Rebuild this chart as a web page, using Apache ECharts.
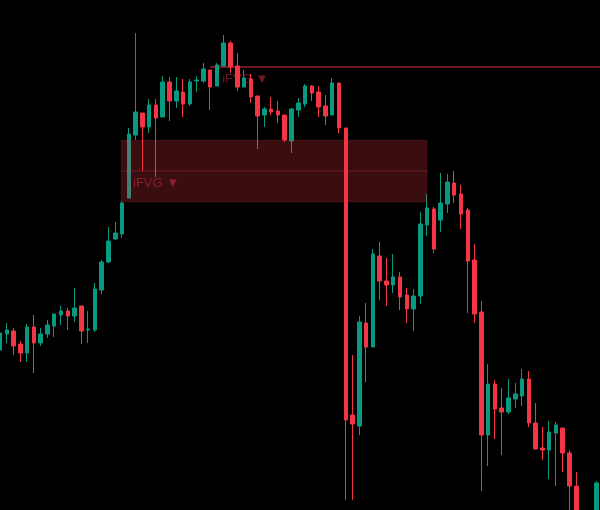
<!DOCTYPE html>
<html>
<head>
<meta charset="utf-8">
<script src="https://cdn.jsdelivr.net/npm/echarts@6/dist/echarts.min.js"></script>
<style>
html,body{margin:0;padding:0;background:#000;}
#chart{width:600px;height:510px;}
</style>
</head>
<body>
<div id="chart"></div>
<script>
// Bar index (time) positions
var barIndex = [];
for (var k = 0; k < 89; k++) barIndex.push(k);

// OHLC values (arbitrary price units)
var opens  = [160,176,179,166,157,183,167,176,184,195,199,194,204,180,180,220,248,271,276,312,
              375,397,383,405,393,428,409,418,406,429,429,440,424,444,467,444,423,431,414,395,
              401,399,395,369,400,406,424,418,404,395,427,382,95,84,187,163,254,229,225,233,
              215,201,214,285,301,290,306,327,316,300,250,198,75,126,102,98,111,114,131,87,
              62,60,77,82,57,24,-20,-38,-30];
var closes = [177,180,164,157,183,167,176,185,196,199,194,202,179,181,221,248,269,277,307,376,
              398,383,405,392,428,409,419,406,428,430,441,423,445,467,443,423,432,413,394,401,
              398,395,370,401,407,424,417,403,394,427,382,90,86,188,163,256,229,225,233,213,
              201,214,286,302,261,307,328,315,296,249,196,75,126,101,98,112,116,131,87,61,
              60,78,85,57,24,-20,-35,-30,27];
var lows   = [158,167,155,148,148,137,164,172,173,185,180,188,166,167,178,216,247,270,272,312,
              370,339,377,333,393,389,402,393,404,418,427,400,424,444,437,419,423,407,361,383,
              395,387,368,357,393,403,409,393,385,395,377,10,10,75,128,163,210,204,217,200,
              187,179,206,274,257,278,297,307,281,197,187,19,44,71,55,96,102,104,83,61,
              50,31,24,38,-5,-30,-45,-42,-35];
var highs  = [182,187,182,169,186,195,182,190,196,204,202,222,204,199,227,250,283,288,309,382,
              477,397,411,411,434,433,433,431,431,434,447,440,447,475,469,457,440,436,414,403,
              413,409,395,402,412,426,425,424,415,432,427,382,155,194,207,261,268,252,256,238,
              222,221,298,316,303,337,336,339,325,302,266,209,146,130,122,131,127,141,139,107,
              83,89,88,82,60,38,-12,-25,29];

// Zones (price levels)
var zoneStartIdx = 18, zoneEndIdx = 63;
var zoneTop = 370, zoneBottom = 308, zoneMid = 339;
var levelStartIdx = 31, levelPrice = 443;
var labelText = 'iFVG \u25BC';

var candleData = barIndex.map(function (x, i) {
  return [x, opens[i], closes[i], lows[i], highs[i]];
});

var chart = echarts.init(document.getElementById('chart'), null, {renderer: 'canvas'});

var labelColor = 'rgba(242,54,69,0.45)';
var fontFamily = 'Liberation Sans, Arial, sans-serif';

chart.setOption({
  backgroundColor: '#000000',
  animation: false,
  grid: {left: 0, right: 0, top: 0, bottom: 0},
  xAxis: {type: 'value', min: 0, max: 88.5, show: false, splitLine: {show: false}},
  yAxis: {type: 'value', min: 0, max: 510, show: false, splitLine: {show: false}},
  series: [
    {
      // upper level line + its label, behind the candles
      type: 'custom',
      z: 1,
      silent: true,
      clip: false,
      data: [[levelStartIdx, levelPrice]],
      encode: {x: 0, y: 1},
      renderItem: function (params, api) {
        var p = api.coord([api.value(0), api.value(1)]);
        var right = params.coordSys.x + params.coordSys.width;
        return {
          type: 'group',
          children: [
            {type: 'line', shape: {x1: p[0], y1: p[1], x2: right, y2: p[1]},
             style: {stroke: 'rgba(242,54,69,0.45)', lineWidth: 2}},
            {type: 'text', x: p[0] + 12, y: p[1] + 12,
             style: {text: labelText, fill: labelColor, fontSize: 13, fontFamily: fontFamily,
                     verticalAlign: 'middle', align: 'left'}}
          ]
        };
      }
    },
    {
      type: 'candlestick',
      z: 2,
      data: candleData,
      encode: {x: 0, y: [1, 2, 3, 4]},
      barWidth: 4,
      clip: true,
      itemStyle: {
        color: '#089981', color0: '#F23645',
        borderColor: '#089981', borderColor0: '#F23645',
        borderWidth: 1
      }
    },
    {
      // zone box drawn over the candles
      type: 'custom',
      z: 5,
      silent: true,
      data: [[zoneStartIdx, zoneEndIdx, zoneTop, zoneBottom, zoneMid]],
      dimensions: ['x0', 'x1', 'top', 'bottom', 'mid'],
      encode: {x: [0, 1], y: [2, 3, 4]},
      renderItem: function (params, api) {
        var a = api.coord([api.value(0), api.value(2)]);
        var b = api.coord([api.value(1), api.value(3)]);
        var m = api.coord([api.value(0), api.value(4)]);
        var x0 = a[0] - 1;
        return {
          type: 'group',
          children: [
            {type: 'rect', shape: {x: x0, y: a[1], width: b[0] - x0, height: b[1] - a[1]},
             style: {fill: 'rgba(242,54,69,0.24)', stroke: 'rgba(242,54,69,0.12)', lineWidth: 1}},
            {type: 'line', shape: {x1: x0, y1: m[1], x2: b[0], y2: m[1]},
             style: {stroke: 'rgba(242,54,69,0.3)', lineWidth: 1}},
            {type: 'text', x: x0 + 12, y: m[1] + 12,
             style: {text: labelText, fill: labelColor, fontSize: 13, fontFamily: fontFamily,
                     verticalAlign: 'middle', align: 'left'}}
          ]
        };
      }
    }
  ]
});
</script>
</body>
</html>
